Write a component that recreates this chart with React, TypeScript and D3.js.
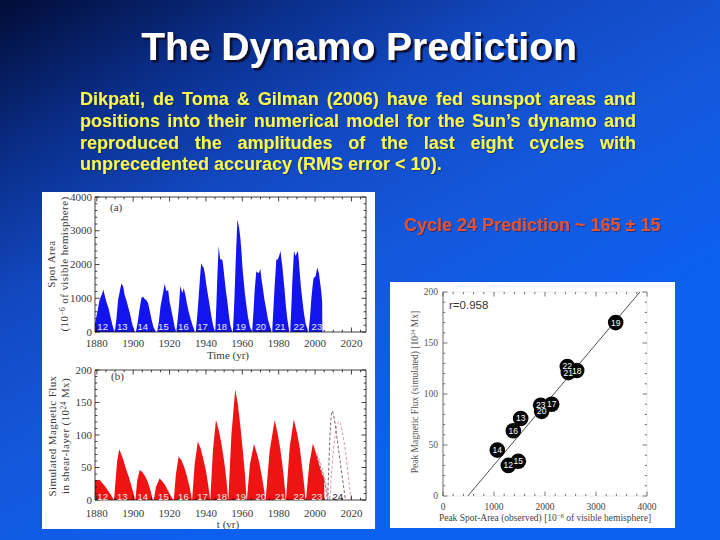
import React, { useEffect, useMemo } from "react";
import * as d3 from "d3";

// ---- values ----
const cycleNumbers = [12, 13, 14, 15, 16, 17, 18, 19, 20, 21, 22, 23];
const labelYears = [1883.2, 1894, 1905.3, 1916.6, 1927.6, 1938.1, 1948.7, 1959.2, 1970.2, 1980.9, 1991.1, 2001];

// (a) observed spot area per cycle: [year, area]
const spot12: [number, number][] = [[1879, 250], [1880.5, 650], [1881.5, 950], [1883, 1150], [1883.6, 1260], [1884.5, 1050], [1885.5, 850], [1886.5, 700], [1887.5, 450], [1888.7, 180], [1889.6, 20]];
const spot13: [number, number][] = [[1889.9, 0], [1890.8, 400], [1891.7, 950], [1892.8, 1250], [1893.5, 1440], [1894.5, 1350], [1895.3, 1100], [1896.2, 950], [1897.2, 750], [1898.2, 550], [1899.2, 300], [1900.3, 80], [1901, 0]];
const spot14: [number, number][] = [[1901.5, 0], [1902.5, 300], [1903.4, 650], [1904.5, 1000], [1905.4, 1050], [1906.3, 980], [1907.2, 950], [1908.2, 850], [1909.2, 600], [1910.2, 350], [1911.2, 130], [1912.4, 20]];
const spot15: [number, number][] = [[1913.2, 0], [1914.2, 350], [1915, 750], [1916.4, 1150], [1917.3, 1430], [1918.3, 1200], [1919.2, 1250], [1920, 900], [1920.8, 700], [1921.9, 400], [1922.8, 150], [1923.4, 50]];
const spot16: [number, number][] = [[1923.8, 50], [1924.5, 400], [1925.2, 800], [1925.9, 1360], [1927, 1150], [1927.8, 1300], [1928.7, 1100], [1929.5, 850], [1930.5, 600], [1931.5, 400], [1932.6, 200], [1933.8, 30]];
const spot17: [number, number][] = [[1934.5, 50], [1935.4, 600], [1936.2, 1200], [1937, 1800], [1937.4, 2040], [1938.2, 1950], [1938.8, 1900], [1939.5, 1700], [1940.2, 1400], [1941.1, 1100], [1942, 800], [1943, 450], [1943.9, 200], [1944.8, 40]];
const spot18: [number, number][] = [[1945.2, 100], [1945.8, 900], [1946.3, 1700], [1947, 2550], [1947.5, 2300], [1947.9, 2150], [1949, 2150], [1949.6, 1900], [1950.3, 1550], [1951, 1200], [1951.8, 900], [1952.6, 500], [1953.4, 200], [1954.3, 40]];
const spot19: [number, number][] = [[1954.9, 100], [1955.6, 900], [1956.3, 2000], [1956.9, 2800], [1957.3, 3330], [1958.2, 3100], [1958.9, 2800], [1959.5, 2400], [1960.1, 1900], [1960.7, 1550], [1961.4, 1150], [1962.2, 800], [1963.1, 450], [1964, 200], [1964.9, 40]];
const spot20: [number, number][] = [[1965.5, 100], [1966.2, 650], [1966.8, 1250], [1967.7, 1800], [1968.4, 1760], [1969.1, 1750], [1969.9, 1870], [1970.6, 1550], [1971.3, 1300], [1972.2, 950], [1973.2, 650], [1974.2, 350], [1975, 200], [1975.9, 50]];
const spot21: [number, number][] = [[1976.5, 100], [1977.1, 700], [1977.7, 1300], [1978.7, 2150], [1979.5, 2150], [1980.2, 2250], [1981, 2400], [1981.5, 2150], [1982, 1950], [1982.7, 1550], [1983.3, 1200], [1984, 750], [1984.7, 400], [1985.7, 50]];
const spot22: [number, number][] = [[1986.4, 100], [1987, 800], [1987.5, 1500], [1988.4, 2400], [1989.3, 2250], [1990, 2350], [1990.6, 2400], [1991.1, 2100], [1991.5, 1800], [1992.2, 1350], [1993, 950], [1993.9, 550], [1994.8, 250], [1996, 50]];
const spot23: [number, number][] = [[1996.6, 100], [1997.3, 500], [1997.9, 950], [1998.6, 1350], [1999.2, 1600], [2000.3, 1650], [2001.2, 1910], [2002.1, 1750], [2002.8, 1450], [2003.4, 1200], [2003.9, 900], [2004, 0]];
const spotCycles = [spot12, spot13, spot14, spot15, spot16, spot17, spot18, spot19, spot20, spot21, spot22, spot23];

// (b) simulated flux per cycle: [year, flux]
const flux12: [number, number][] = [[1879, 30], [1881.5, 31], [1883, 26], [1884.5, 21], [1886, 15], [1888, 7], [1889.3, 0]];
const flux13: [number, number][] = [[1889.5, 0], [1890.3, 30], [1891.2, 60], [1892.3, 78], [1893.5, 70], [1894.8, 60], [1896, 48], [1897.5, 36], [1899, 22], [1900.2, 10], [1901, 0]];
const flux14: [number, number][] = [[1901.2, 0], [1902.2, 30], [1903.6, 46], [1905, 43], [1906.5, 37], [1908, 28], [1909.5, 15], [1910.8, 0]];
const flux15: [number, number][] = [[1911.3, 0], [1912.5, 20], [1914.5, 33], [1916, 29], [1917.5, 23], [1919, 15], [1920.7, 6], [1922, 0]];
const flux16: [number, number][] = [[1922.3, 0], [1923.5, 40], [1925, 67], [1926.5, 61], [1928, 51], [1929.5, 37], [1931, 20], [1932.3, 0]];
const flux17: [number, number][] = [[1932.4, 0], [1933.8, 55], [1935.5, 90], [1937, 80], [1938.5, 64], [1940, 45], [1941.3, 22], [1942.3, 0]];
const flux18: [number, number][] = [[1942.4, 0], [1943.8, 75], [1945.5, 123], [1947, 108], [1948.5, 87], [1950, 60], [1951.3, 30], [1952.2, 0]];
const flux19: [number, number][] = [[1952.3, 0], [1954, 100], [1956.1, 170], [1957.5, 148], [1959, 112], [1960.3, 75], [1961.5, 38], [1962.3, 0]];
const flux20: [number, number][] = [[1962.5, 0], [1964.2, 55], [1966.4, 86], [1968, 72], [1969.5, 55], [1971, 32], [1972.2, 12], [1972.6, 0]];
const flux21: [number, number][] = [[1972.8, 0], [1975, 75], [1977.8, 123], [1979.3, 104], [1980.8, 80], [1982.3, 48], [1983.5, 15], [1983.8, 0]];
const flux22: [number, number][] = [[1984, 0], [1986, 80], [1988.3, 124], [1990, 104], [1991.6, 80], [1993, 48], [1994.3, 15], [1994.6, 0]];
const flux23: [number, number][] = [[1995, 0], [1996.8, 55], [1998.8, 87], [2000.3, 74], [2002, 56], [2003.6, 42], [2005, 32], [2005.1, 0]];
const fluxCycles = [flux12, flux13, flux14, flux15, flux16, flux17, flux18, flux19, flux20, flux21, flux22, flux23];

// dashed model runs for cycle 24
const predictionA: [number, number][] = [[2001, 68], [2003, 50], [2005, 30], [2006.3, 10], [2006.8, 0], [2007.4, 40], [2008.3, 105], [2009.4, 137], [2010.6, 124], [2012.2, 92], [2014, 55], [2015.6, 22], [2016.7, 0]];
const predictionB: [number, number][] = [[2001, 72], [2003.5, 52], [2006, 25], [2007.5, 6], [2008, 0], [2009, 40], [2011, 100], [2013.4, 121], [2015, 104], [2017, 68], [2018.8, 25], [2019.8, 0]];
const label24Year = 2012.5;

// scatter: peak observed area vs peak simulated flux
const scatterCycles = [12, 13, 14, 15, 16, 17, 18, 19, 20, 21, 22, 23];
const scatterArea = [1281, 1523, 1065, 1477, 1379, 2131, 2621, 3386, 1935, 2458, 2438, 1915];
const scatterFlux = [30, 76, 45, 34, 64, 90, 123, 170, 83, 121, 127, 89];
const fitLine: [number, number][] = [[487, 0], [3860, 200]];

const paragraph = [
  "Dikpati, de Toma & Gilman (2006) have fed sunspot areas and",
  "positions into their numerical model for the Sun\u2019s dynamo and",
  "reproduced the amplitudes of the last eight cycles with",
  "unprecedented accuracy (RMS error < 10).",
];

const SANS = "'Liberation Sans', Arial, sans-serif";
const SERIF = "'Liberation Serif', 'DejaVu Serif', serif";
const AXIS = "#3a3a3a";

function TickFrame({ xs, ys, xMajor, xMinor, yMajor, yMinor, color, frameColor, sides }: any) {
  const [x0, x1] = xs.range();
  const [y0, y1] = ys.range();
  const L = 4.5, l = 2.3;
  const out: any[] = [];
  const fc = frameColor || color;
  if (sides.left) out.push(<line key="fl" x1={x0} x2={x0} y1={y0} y2={y1} stroke={fc} strokeWidth={0.8} />);
  if (sides.right) out.push(<line key="fr" x1={x1} x2={x1} y1={y0} y2={y1} stroke={fc} strokeWidth={0.8} />);
  if (sides.top) out.push(<line key="ft" x1={x0} x2={x1} y1={y1} y2={y1} stroke={fc} strokeWidth={0.8} />);
  if (sides.bottom) out.push(<line key="fb" x1={x0} x2={x1} y1={y0} y2={y0} stroke={fc} strokeWidth={0.8} />);
  xMinor.forEach((v: number, i: number) => {
    const len = xMajor.includes(v) ? L : l;
    const px = xs(v);
    out.push(<line key={"xb" + i} x1={px} x2={px} y1={y0} y2={y0 - len} stroke={color} strokeWidth={0.8} />);
    out.push(<line key={"xt" + i} x1={px} x2={px} y1={y1} y2={y1 + len} stroke={color} strokeWidth={0.8} />);
  });
  yMinor.forEach((v: number, i: number) => {
    const len = yMajor.includes(v) ? L : l;
    const py = ys(v);
    out.push(<line key={"yl" + i} x1={x0} x2={x0 + len} y1={py} y2={py} stroke={color} strokeWidth={0.8} />);
    out.push(<line key={"yr" + i} x1={x1} x2={x1 - len} y1={py} y2={py} stroke={color} strokeWidth={0.8} />);
  });
  return <g>{out}</g>;
}

export default function App() {
  useEffect(() => {
    document.body.style.margin = "0";
  }, []);

  // left panel scales
  const xTime = d3.scaleLinear().domain([1879, 2028]).range([95, 366]);
  const ySpot = d3.scaleLinear().domain([0, 4000]).range([332, 197]);
  const yFlux = d3.scaleLinear().domain([0, 200]).range([500, 370]);
  // scatter scales
  const xArea = d3.scaleLinear().domain([0, 4000]).range([443, 647]);
  const yPeak = d3.scaleLinear().domain([0, 200]).range([496, 292]);

  const spotArea = d3.area<[number, number]>().x((d) => xTime(d[0])).y0(ySpot(0)).y1((d) => ySpot(d[1]));
  const fluxArea = d3.area<[number, number]>().x((d) => xTime(d[0])).y0(yFlux(0)).y1((d) => yFlux(d[1]));
  const fluxLine = d3.line<[number, number]>().x((d) => xTime(d[0])).y((d) => yFlux(d[1])).curve(d3.curveMonotoneX);
  const fit = d3.line<[number, number]>().x((d) => xArea(d[0])).y((d) => yPeak(d[1]));

  const yearMajor = d3.range(1880, 2021, 20);
  const yearMinor = d3.range(1880, 2028, 5);

  // justified paragraph
  const lines = useMemo(() => {
    const ctx = document.createElement("canvas").getContext("2d")!;
    ctx.font = `bold 18px ${SANS}`;
    const left = 80, right = 636;
    return paragraph.map((s, li) => {
      const words = s.split(" ");
      const widths = words.map((w) => ctx.measureText(w).width);
      const total = d3.sum(widths);
      const justify = li < paragraph.length - 1;
      const gap = justify ? (right - left - total) / (words.length - 1) : ctx.measureText(" ").width;
      let x = left;
      return words.map((w, i) => {
        const item = { w, x };
        x += widths[i] + gap;
        return item;
      });
    });
  }, []);

  return (
    <svg width={720} height={540} style={{ position: "absolute", left: 0, top: 0, display: "block" }}>
      <defs>
        <linearGradient id="bg" x1="0" y1="0" x2="0.6" y2="0.8">
          <stop offset="0" stopColor="#020c36" />
          <stop offset="0.25" stopColor="#0a2f8c" />
          <stop offset="0.45" stopColor="#1248c0" />
          <stop offset="0.7" stopColor="#1458dc" />
          <stop offset="1" stopColor="#0c60f0" />
        </linearGradient>
        <filter id="titleShadow" x="-5%" y="-20%" width="110%" height="150%">
          <feDropShadow dx={2.5} dy={2.5} stdDeviation={0.4} floodColor="#0a0a30" floodOpacity={1} />
        </filter>
        <filter id="textShadow" x="-5%" y="-20%" width="110%" height="150%">
          <feDropShadow dx={1} dy={1} stdDeviation={0.3} floodColor="#1a1a50" floodOpacity={0.6} />
        </filter>
      </defs>
      <rect width={720} height={540} fill="url(#bg)" />

      {/* title */}
      <text x={359} y={60} textAnchor="middle" fontFamily={SANS} fontWeight="bold" fontSize={39} fill="#ffffff" filter="url(#titleShadow)">The Dynamo Prediction</text>

      {/* paragraph */}
      <g filter="url(#textShadow)">
        {lines.map((ws, li) =>
          ws.map((w, i) => (
            <text key={li + "-" + i} x={w.x} y={105 + li * 21.8} fontFamily={SANS} fontWeight="bold" fontSize={18} fill="#f8f84e">{w.w}</text>
          ))
        )}
      </g>

      <text x={404} y={231} fontFamily={SANS} fontWeight="bold" fontSize={18} fill="#e2522e" filter="url(#textShadow)">Cycle 24 Prediction ~ 165 ± 15</text>

      {/* left panel */}
      <rect x={42} y={192} width={333} height={337} fill="#ffffff" />

      {/* (a) spot area */}
      {spotCycles.map((c, i) => (
        <path key={"s" + i} d={spotArea(c)!} fill="#1414ee" />
      ))}
      <TickFrame xs={xTime} ys={ySpot} xMajor={yearMajor} xMinor={yearMinor} yMajor={d3.range(0, 4001, 1000)} yMinor={d3.range(0, 4001, 200)} color="#111" sides={{ left: true, right: true, top: true, bottom: true }} />
      {cycleNumbers.map((n, i) => (
        <text key={"sl" + n} x={xTime(labelYears[i])} y={330} textAnchor="middle" fontFamily={SANS} fontSize={9.5} fill="#e8ecff">{n}</text>
      ))}
      <text x={110} y={211} fontFamily={SERIF} fontSize={11} fill={AXIS}>(a)</text>
      {d3.range(0, 4001, 1000).map((v) => (
        <text key={"sy" + v} x={92} y={ySpot(v) + 3.5} textAnchor="end" fontFamily={SERIF} fontSize={11} fill={AXIS}>{v}</text>
      ))}
      {yearMajor.map((v) => (
        <text key={"sx" + v} x={xTime(v)} y={347} textAnchor="middle" fontFamily={SERIF} fontSize={11} fill={AXIS}>{v}</text>
      ))}
      <text x={228} y={359} textAnchor="middle" fontFamily={SERIF} fontSize={11} fill={AXIS}>Time (yr)</text>
      <text transform={`translate(55,264) rotate(-90)`} textAnchor="middle" fontFamily={SERIF} fontSize={11} letterSpacing={0.4} fill={AXIS}>Spot Area</text>
      <text transform={`translate(68,264) rotate(-90)`} textAnchor="middle" fontFamily={SERIF} fontSize={11} letterSpacing={0.4} fill={AXIS}>
        (10<tspan fontSize={7.5} dy={-3.5}>−6</tspan><tspan dy={3.5}> of visible hemisphere)</tspan>
      </text>

      {/* (b) simulated flux */}
      {fluxCycles.map((c, i) => (
        <path key={"f" + i} d={fluxArea(c)!} fill="#ee1414" />
      ))}
      <path d={fluxLine(predictionB)!} fill="none" stroke="#d890a4" strokeWidth={0.9} strokeDasharray="3,2" />
      <path d={fluxLine(predictionA)!} fill="none" stroke="#6e5466" strokeWidth={0.9} strokeDasharray="3,2" />
      <TickFrame xs={xTime} ys={yFlux} xMajor={yearMajor} xMinor={yearMinor} yMajor={d3.range(0, 201, 50)} yMinor={d3.range(0, 201, 10)} color="#111" sides={{ left: true, right: true, top: true, bottom: true }} />
      {cycleNumbers.map((n, i) => (
        <text key={"fl" + n} x={xTime(labelYears[i])} y={500} textAnchor="middle" fontFamily={SANS} fontSize={9.5} fill="#ffe8e8">{n}</text>
      ))}
      <text x={xTime(label24Year)} y={500} textAnchor="middle" fontFamily={SANS} fontSize={9.5} fill="#222">24</text>
      <text x={111} y={380} fontFamily={SERIF} fontSize={11} fill={AXIS}>(b)</text>
      {d3.range(0, 201, 50).map((v) => (
        <text key={"fy" + v} x={92} y={yFlux(v) + 3.5} textAnchor="end" fontFamily={SERIF} fontSize={11} fill={AXIS}>{v}</text>
      ))}
      {yearMajor.map((v) => (
        <text key={"fx" + v} x={xTime(v)} y={517} textAnchor="middle" fontFamily={SERIF} fontSize={11} fill={AXIS}>{v}</text>
      ))}
      <text x={228} y={527.5} textAnchor="middle" fontFamily={SERIF} fontSize={11} fill={AXIS}>t (yr)</text>
      <text transform={`translate(56,436) rotate(-90)`} textAnchor="middle" fontFamily={SERIF} fontSize={11} letterSpacing={0.4} fill={AXIS}>Simulated Magnetic Flux</text>
      <text transform={`translate(69,436) rotate(-90)`} textAnchor="middle" fontFamily={SERIF} fontSize={11} letterSpacing={0.4} fill={AXIS}>
        in shear-layer (10<tspan fontSize={7.5} dy={-3.5}>24</tspan><tspan dy={3.5}> Mx)</tspan>
      </text>

      {/* right panel: scatter */}
      <rect x={390} y={282} width={285} height={246} fill="#ffffff" />
      <TickFrame xs={xArea} ys={yPeak} xMajor={d3.range(0, 4001, 1000)} xMinor={d3.range(0, 4001, 200)} yMajor={d3.range(0, 201, 50)} yMinor={d3.range(0, 201, 10)} color="#555" frameColor="#e4e4e4" sides={{ left: false, right: true, top: true, bottom: true }} />
      <line x1={xArea(0)} x2={xArea(0)} y1={yPeak(0)} y2={yPeak(200)} stroke="#444" strokeWidth={0.8} />
      <path d={fit(fitLine)!} fill="none" stroke="#222" strokeWidth={0.8} />
      {scatterCycles.map((n, i) => (
        <circle key={"c" + n} cx={xArea(scatterArea[i])} cy={yPeak(scatterFlux[i])} r={7.8} fill="#050505" />
      ))}
      {scatterCycles.map((n, i) => (
        <text key={"ct" + n} x={xArea(scatterArea[i])} y={yPeak(scatterFlux[i]) + 3} textAnchor="middle" fontFamily={SANS} fontSize={8.5} fill="#ffffff">{n}</text>
      ))}
      <text x={449} y={309} fontFamily={SANS} fontSize={11.5} fill="#333">r=0.958</text>
      {d3.range(0, 201, 50).map((v) => (
        <text key={"py" + v} x={438} y={yPeak(v) + 3} textAnchor="end" fontFamily={SERIF} fontSize={9.5} fill="#555">{v}</text>
      ))}
      {d3.range(0, 4001, 1000).map((v) => (
        <text key={"px" + v} x={xArea(v)} y={510} textAnchor="middle" fontFamily={SERIF} fontSize={9.5} fill="#444">{v}</text>
      ))}
      <text x={545} y={520.5} textAnchor="middle" fontFamily={SERIF} fontSize={9.5} fill="#444">
        Peak Spot-Area (observed) [10<tspan fontSize={6.5} dy={-3}>−6</tspan><tspan dy={3}> of visible hemisphere]</tspan>
      </text>
      <text transform={`translate(418,392) rotate(-90)`} textAnchor="middle" fontFamily={SERIF} fontSize={9.5} fill="#555">
        Peak Magnetic Flux (simulated) [10<tspan fontSize={6.5} dy={-3}>24</tspan><tspan dy={3}> Mx]</tspan>
      </text>
    </svg>
  );
}
